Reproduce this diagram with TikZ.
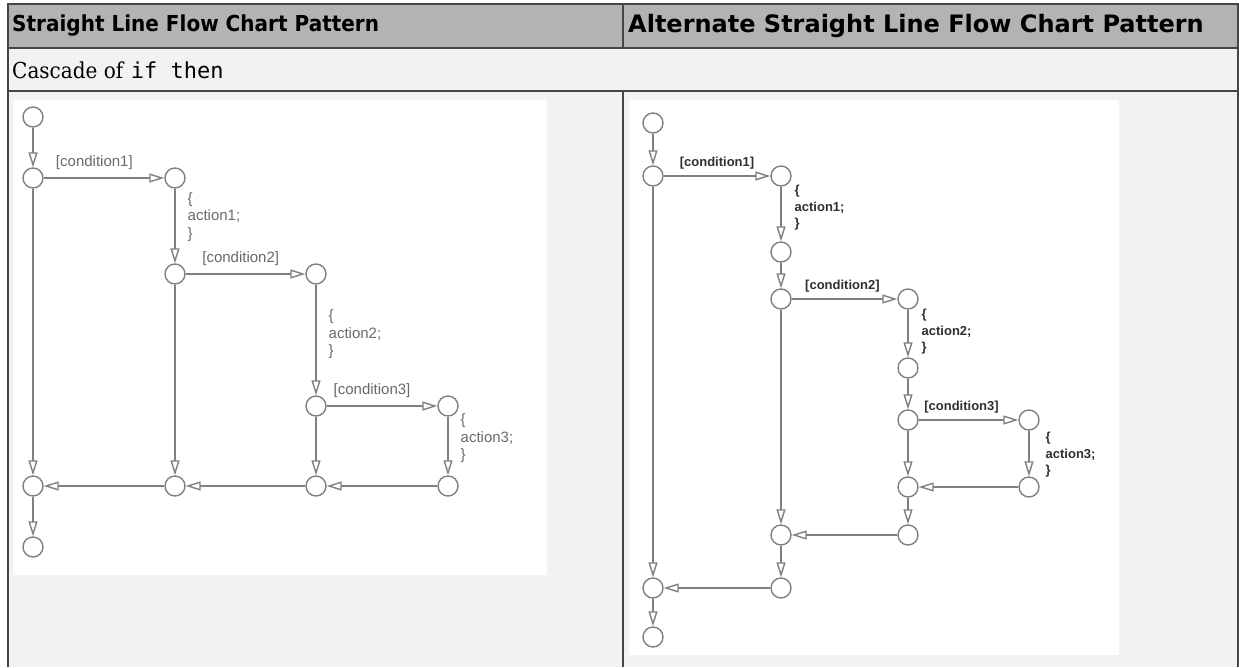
\documentclass[tikz,border=0pt]{standalone}
\usepackage{fontspec}
\setmainfont[FakeStretch=0.91]{DejaVu Serif}
\setsansfont{Liberation Sans}
\setmonofont{DejaVu Sans Mono}
\newfontfamily\headfont[FakeStretch=0.91]{DejaVu Sans}
\newfontfamily\wideheadfont{DejaVu Sans}
\usepackage{tikz}
\usetikzlibrary{positioning, arrows.meta}
\definecolor{gridline}{HTML}{454545}
\definecolor{headgray}{HTML}{B3B3B3}
\definecolor{cellgray}{HTML}{F2F2F2}
\definecolor{wire}{HTML}{808080}
\definecolor{labelgray}{HTML}{6A6A6A}
\definecolor{labeldark}{HTML}{303030}
\tikzset{
  grid/.style={draw=gridline, line width=2pt},
  headtext/.style={font=\fontsize{22}{26}\selectfont\headfont\bfseries, anchor=west, inner sep=0pt},
  wideheadtext/.style={font=\fontsize{24}{28}\selectfont\wideheadfont\bfseries, anchor=west, inner sep=0pt},
  celltext/.style={font=\fontsize{22}{26}\selectfont, anchor=west, inner sep=0pt},
  state/.style={circle, draw=wire, line width=1.4pt, fill=white, minimum size=20pt, inner sep=0pt},
  flow/.style={draw=wire, line width=1.4pt, -{Triangle[length=15pt, width=9pt, fill=white]}},
  thinlabel/.style={font=\fontsize{15}{17.5}\selectfont\sffamily, text=labelgray, inner sep=1pt, align=left},
  boldlabel/.style={font=\fontsize{13}{16.5}\selectfont\sffamily\bfseries, text=labeldark, inner sep=1pt, align=left},
}

\begin{document}
\begin{tikzpicture}[x=1pt, y=-1pt]
  \useasboundingbox (0,0) rectangle (1239,667);
  % Table cells
  \fill[white] (0,0) rectangle (1239,667);
  \fill[headgray] (7,4) rectangle (1238,48);
  \fill[cellgray] (7,48) rectangle (1238,667);
  \fill[white] (13,100) rectangle (547,575);
  \fill[white] (629,100) rectangle (1119,655);
  % Table rules
  \draw[grid] (7.5,667) -- (7.5,4) -- (1237.5,4) -- (1237.5,667);
  \draw[grid] (7.5,48) -- (1237.5,48);
  \draw[grid] (7.5,91) -- (1237.5,91);
  \draw[grid] (623,4) -- (623,48);
  \draw[grid] (623,91) -- (623,667);

  % Header and caption
  \node[headtext] (headleft) at (12,26) {Straight Line Flow Chart Pattern};
  \node[wideheadtext] (headright) at (628,26) {Alternate Straight Line Flow Chart Pattern};
  \node[celltext] (cascade) at (12,70) {Cascade of \texttt{if then}};

  % Straight line pattern: junctions
  \node[state] (aStart) at (33,117) {};
  \node[state] (aIf1) at (33,178) {};
  \node[state] (aDo1) at (175,178) {};
  \node[state] (aIf2) at (175,274) {};
  \node[state] (aDo2) at (316,274) {};
  \node[state] (aIf3) at (316,406) {};
  \node[state] (aDo3) at (448,406) {};
  \node[state] (aJoin1) at (33,486) {};
  \node[state] (aJoin2) at (175,486) {};
  \node[state] (aJoin3) at (316,486) {};
  \node[state] (aJoin4) at (448,486) {};
  \node[state] (aEnd) at (33,547) {};

  % Straight line pattern: transitions
  \draw[flow] (aStart) -- (aIf1);
  \draw[flow] (aIf1) -- node[thinlabel, above=7pt, pos=0.42] {[condition1]} (aDo1);
  \draw[flow] (aDo1) -- node[thinlabel, right=11pt, pos=0.38] {\{\\action1;\\\}} (aIf2);
  \draw[flow] (aIf2) -- node[thinlabel, above=7pt, pos=0.46] {[condition2]} (aDo2);
  \draw[flow] (aDo2) -- node[thinlabel, right=11pt, pos=0.45] {\{\\action2;\\\}} (aIf3);
  \draw[flow] (aIf3) -- node[thinlabel, above=7pt, pos=0.41] {[condition3]} (aDo3);
  \draw[flow] (aDo3) -- node[thinlabel, right=11pt, pos=0.37] {\{\\action3;\\\}} (aJoin4);
  \draw[flow] (aIf1) -- (aJoin1);
  \draw[flow] (aIf2) -- (aJoin2);
  \draw[flow] (aIf3) -- (aJoin3);
  \draw[flow] (aJoin4) -- (aJoin3);
  \draw[flow] (aJoin3) -- (aJoin2);
  \draw[flow] (aJoin2) -- (aJoin1);
  \draw[flow] (aJoin1) -- (aEnd);

  % Alternate pattern: junctions
  \node[state] (bStart) at (653,123) {};
  \node[state] (bIf1) at (653,176) {};
  \node[state] (bDo1) at (781,176) {};
  \node[state] (bMid1) at (781,252) {};
  \node[state] (bIf2) at (781,299) {};
  \node[state] (bDo2) at (908,299) {};
  \node[state] (bMid2) at (908,368) {};
  \node[state] (bIf3) at (908,420) {};
  \node[state] (bDo3) at (1029,420) {};
  \node[state] (bJoin3) at (908,487) {};
  \node[state] (bOut3) at (1029,487) {};
  \node[state] (bOut2) at (908,535) {};
  \node[state] (bJoin2) at (781,535) {};
  \node[state] (bOut1) at (781,588) {};
  \node[state] (bJoin1) at (653,588) {};
  \node[state] (bEnd) at (653,637) {};

  % Alternate pattern: transitions
  \draw[flow] (bStart) -- (bIf1);
  \draw[flow] (bIf1) -- node[boldlabel, above=5pt, pos=0.5] {[condition1]} (bDo1);
  \draw[flow] (bDo1) -- node[boldlabel, right=12pt, pos=0.39] {\{\\action1;\\\}} (bMid1);
  \draw[flow] (bMid1) -- (bIf2);
  \draw[flow] (bIf2) -- node[boldlabel, above=5pt, pos=0.48] {[condition2]} (bDo2);
  \draw[flow] (bDo2) -- node[boldlabel, right=12pt, pos=0.47] {\{\\action2;\\\}} (bMid2);
  \draw[flow] (bMid2) -- (bIf3);
  \draw[flow] (bIf3) -- node[boldlabel, above=5pt, pos=0.43] {[condition3]} (bDo3);
  \draw[flow] (bDo3) -- node[boldlabel, right=15pt, pos=0.53] {\{\\action3;\\\}} (bOut3);
  \draw[flow] (bIf3) -- (bJoin3);
  \draw[flow] (bOut3) -- (bJoin3);
  \draw[flow] (bJoin3) -- (bOut2);
  \draw[flow] (bOut2) -- (bJoin2);
  \draw[flow] (bIf2) -- (bJoin2);
  \draw[flow] (bJoin2) -- (bOut1);
  \draw[flow] (bOut1) -- (bJoin1);
  \draw[flow] (bIf1) -- (bJoin1);
  \draw[flow] (bJoin1) -- (bEnd);
\end{tikzpicture}
\end{document}
